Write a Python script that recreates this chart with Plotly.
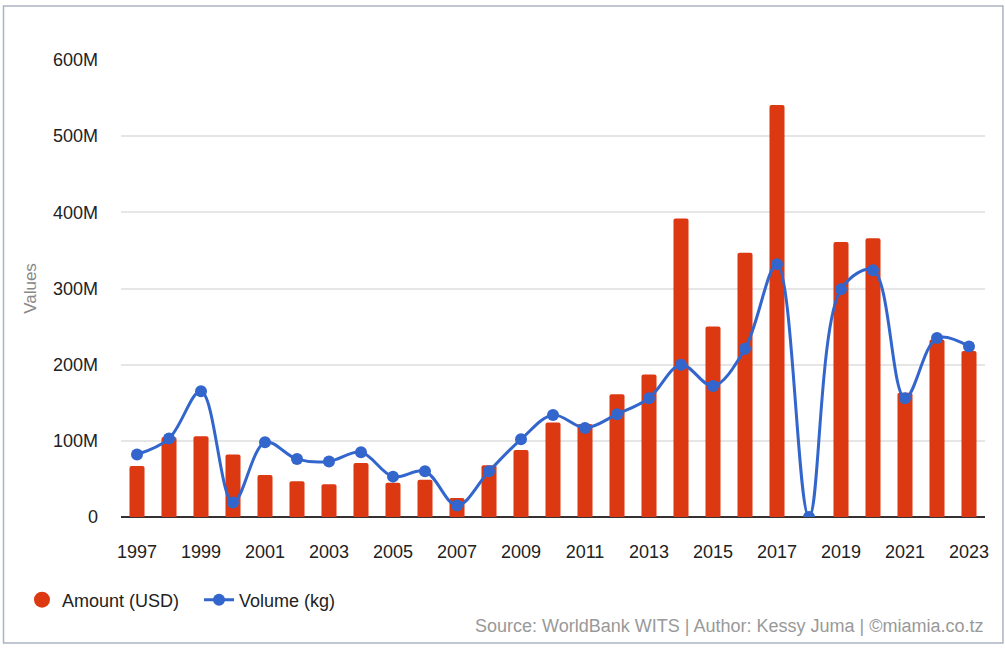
import plotly.graph_objects as go

# Data
years = list(range(1997, 2024))
amount_usd = [67e6, 105e6, 106e6, 82e6, 55e6, 47e6, 43e6, 71e6, 45e6, 49e6,
              25e6, 68e6, 88e6, 124e6, 122e6, 161e6, 187e6, 392e6, 250e6, 347e6,
              541e6, 0, 361e6, 366e6, 163e6, 233e6, 218e6]
volume_kg = [82e6, 103e6, 165e6, 19e6, 98e6, 76e6, 73e6, 85e6, 53e6, 60e6,
             15e6, 60e6, 102e6, 134e6, 117e6, 135e6, 156e6, 200e6, 172e6, 221e6,
             332e6, 0, 299e6, 324e6, 156e6, 235e6, 224e6]
tick_years = list(range(1997, 2024, 2))
y_ticks = [0, 100e6, 200e6, 300e6, 400e6, 500e6, 600e6]
y_labels = ["0", "100M", "200M", "300M", "400M", "500M", "600M"]

RED = "#DC3912"
BLUE = "#3366CC"
FONT = "Liberation Sans, Arial, sans-serif"

fig = go.Figure()

fig.add_trace(go.Bar(
    x=years, y=amount_usd, name="Amount (USD)",
    marker=dict(color=RED, line=dict(width=0), cornerradius=2),
    width=0.47, showlegend=False,
))
# legend entry for the bars drawn as a circle, like the original
fig.add_trace(go.Scatter(
    x=[None], y=[None], mode="markers", name="Amount (USD)   ",
    marker=dict(color=RED, size=17, symbol="circle"),
))
fig.add_trace(go.Scatter(
    x=years, y=volume_kg, name="Volume (kg)",
    mode="lines+markers", line=dict(color=BLUE, width=3, shape="spline", smoothing=1),
    marker=dict(color=BLUE, size=12),
))

fig.update_layout(
    width=1005, height=649,
    margin=dict(l=121, r=20, t=60, b=132),
    paper_bgcolor="white", plot_bgcolor="white",
    font=dict(family=FONT, size=18, color="#222"),
    legend=dict(orientation="h", x=-0.1146, y=-0.1816, xanchor="left", yanchor="middle",
                font=dict(size=18, color="#222"), itemwidth=30, traceorder="normal"),
    xaxis=dict(range=[1996.5, 2023.5], tickvals=tick_years, showgrid=False,
               ticks="", ticklabelstandoff=22, showline=False, zeroline=False,
               tickfont=dict(size=18, color="#222")),
    yaxis=dict(range=[0, 600e6], tickvals=y_ticks, ticktext=y_labels,
               gridcolor="#E6E6E6", gridwidth=1.5, zeroline=True, zerolinecolor="#333",
               zerolinewidth=1.5, ticks="", ticklabelstandoff=22,
               tickfont=dict(size=18, color="#222"),
               title=dict(text="Values", font=dict(size=17, color="#888"), standoff=12)),
    shapes=[dict(type="rect", xref="paper", yref="paper",
                 x0=-0.136, x1=1.0208, y0=-0.2757, y1=1.1182,
                 line=dict(color="#AAB4C3", width=1.5), fillcolor="rgba(0,0,0,0)", layer="below")],
    annotations=[dict(text="Source: WorldBank WITS | Author: Kessy Juma | ©miamia.co.tz",
                      xref="paper", yref="paper", x=1.0, y=-0.2385, xanchor="right",
                      yanchor="middle", showarrow=False,
                      font=dict(size=18, color="#999"))],
)

fig.write_html("out.html", config={"displayModeBar": False},
               post_script="document.body.style.margin='0';")
